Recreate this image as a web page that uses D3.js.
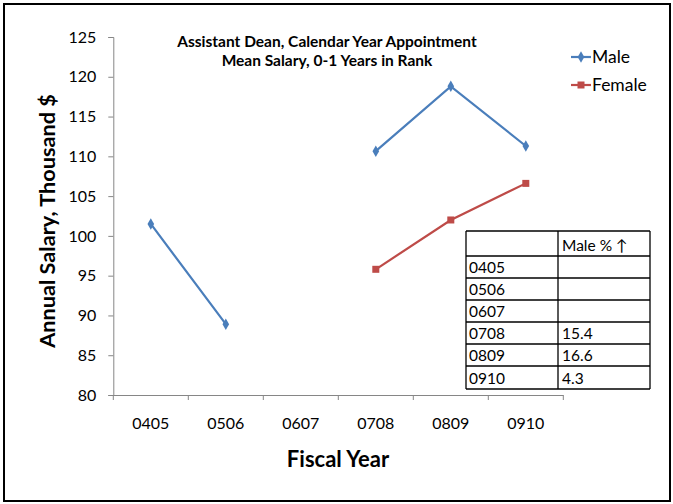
<!DOCTYPE html>
<html><head><meta charset="utf-8">
<script src="https://cdn.jsdelivr.net/npm/d3@7"></script>
<style>body{margin:0;background:#fff}svg{display:block}text{font-family:Lato,"Open Sans",sans-serif;fill:#000}</style>
</head><body><svg id="c" width="673" height="504"></svg>
<script>
const categories = ["0405","0506","0607","0708","0809","0910"];
const maleValues = [101.5, 88.9, null, 110.65, 118.8, 111.3];
const femaleValues = [null, null, null, 95.8, 102.0, 106.6];
const yTicks = [80,85,90,95,100,105,110,115,120,125];
const tableHeader = ["", "Male % \u2191"];
const tableYears = ["0405","0506","0607","0708","0809","0910"];
const tablePct = ["", "", "", "15.4", "16.6", "4.3"];

const svg = d3.select("#c");
svg.append("rect").attr("x",4).attr("y",4).attr("width",666).attr("height",497)
  .attr("fill","#fff").attr("stroke","#000").attr("stroke-width",2);

const x = d3.scaleBand().domain(categories).range([113.3,563.3]);
const y = d3.scaleLinear().domain([80,125]).range([395,37]);

// axes
const yAxis = svg.append("g").attr("transform","translate(113.3,0)")
  .call(d3.axisLeft(y).tickValues(yTicks).tickSize(5).tickPadding(12).tickFormat(d3.format("d")));
const xAxis = svg.append("g").attr("transform","translate(0,395)")
  .call(d3.axisBottom(x).tickSize(0).tickPadding(23));
[yAxis,xAxis].forEach(g=>{
  g.select(".domain").attr("stroke","#868686").attr("stroke-width",1);
  g.selectAll(".tick line").attr("stroke","#868686");
  g.selectAll("text").attr("font-size",16).attr("font-family","Lato,'Open Sans',sans-serif").attr("fill","#000");
});
xAxis.select(".domain").attr("d","M113.3,0.5H563.3");
// x category boundary ticks
svg.append("g").selectAll("line").data(d3.range(categories.length+1)).join("line")
  .attr("x1",i=>113.3+i*x.step()).attr("x2",i=>113.3+i*x.step())
  .attr("y1",395).attr("y2",400).attr("stroke","#868686");

const cx = d => x(d)+x.bandwidth()/2;
const maleCol = "#4A7EBB", femaleCol = "#BE4B48";
const line = d3.line().defined(d=>d.v!==null).x(d=>cx(d.c)).y(d=>y(d.v));
const male = categories.map((c,i)=>({c,v:maleValues[i]}));
const female = categories.map((c,i)=>({c,v:femaleValues[i]}));
svg.append("path").datum(male).attr("d",line).attr("fill","none").attr("stroke",maleCol).attr("stroke-width",2.2);
svg.append("path").datum(female).attr("d",line).attr("fill","none").attr("stroke",femaleCol).attr("stroke-width",2.2);
const diamond = d3.symbol().type(d3.symbolDiamond).size(38);
svg.append("g").selectAll("path").data(male.filter(d=>d.v!==null)).join("path")
  .attr("d",diamond).attr("transform",d=>`translate(${cx(d.c)},${y(d.v)})`).attr("fill",maleCol);
svg.append("g").selectAll("rect").data(female.filter(d=>d.v!==null)).join("rect")
  .attr("x",d=>cx(d.c)-3.5).attr("y",d=>y(d.v)-3.5).attr("width",7).attr("height",7).attr("fill",femaleCol);

// title
const t = svg.append("text").attr("x",327).attr("y",47).attr("text-anchor","middle").attr("font-weight","bold").attr("font-size",15.5);
t.append("tspan").attr("x",327).text("Assistant Dean, Calendar Year Appointment");
t.append("tspan").attr("x",327).attr("dy",18.5).text("Mean Salary, 0-1 Years in Rank");

// axis titles
svg.append("text").attr("transform","translate(55,221) rotate(-90)").attr("text-anchor","middle")
  .attr("font-weight","bold").attr("font-size",21.7).text("Annual Salary, Thousand $");
svg.append("text").attr("x",338).attr("y",467).attr("text-anchor","middle")
  .attr("font-weight","bold").attr("font-size",22).text("Fiscal Year");

// legend
const legend = [{n:"Male",c:maleCol,y:57,m:"d"},{n:"Female",c:femaleCol,y:85,m:"s"}];
legend.forEach(l=>{
  svg.append("line").attr("x1",571).attr("x2",591).attr("y1",l.y).attr("y2",l.y).attr("stroke",l.c).attr("stroke-width",2.2);
  if(l.m==="d") svg.append("path").attr("d",diamond).attr("transform",`translate(581,${l.y})`).attr("fill",l.c);
  else svg.append("rect").attr("x",577.5).attr("y",l.y-3.5).attr("width",7).attr("height",7).attr("fill",l.c);
  svg.append("text").attr("x",592).attr("y",l.y+6).attr("font-size",17.5).text(l.n);
});

// table
const tx0=466, tx1=558, tx2=650;
const rowY=[231,256,278,300,322,344,366,389];
const tg = svg.append("g");
tg.append("rect").attr("x",tx0).attr("y",rowY[0]).attr("width",tx2-tx0).attr("height",rowY[7]-rowY[0]).attr("fill","#fff");
const rows=[tableHeader].concat(tableYears.map((yr,i)=>[yr,tablePct[i]]));
rows.forEach((r,i)=>{
  const top=rowY[i], bot=rowY[i+1];
  tg.append("text").attr("x",tx0+3).attr("y",bot-5).attr("font-size",15.5).text(r[0]);
  tg.append("text").attr("x",tx1+4).attr("y",bot-5).attr("font-size",15.5).text(r[1]);
});
rowY.forEach(v=>tg.append("line").attr("x1",tx0).attr("x2",tx2).attr("y1",v).attr("y2",v).attr("stroke","#000").attr("stroke-width",1.3));
[tx0,tx1,tx2].forEach(v=>tg.append("line").attr("x1",v).attr("x2",v).attr("y1",rowY[0]).attr("y2",rowY[7]).attr("stroke","#000").attr("stroke-width",1.3));
</script></body></html>
